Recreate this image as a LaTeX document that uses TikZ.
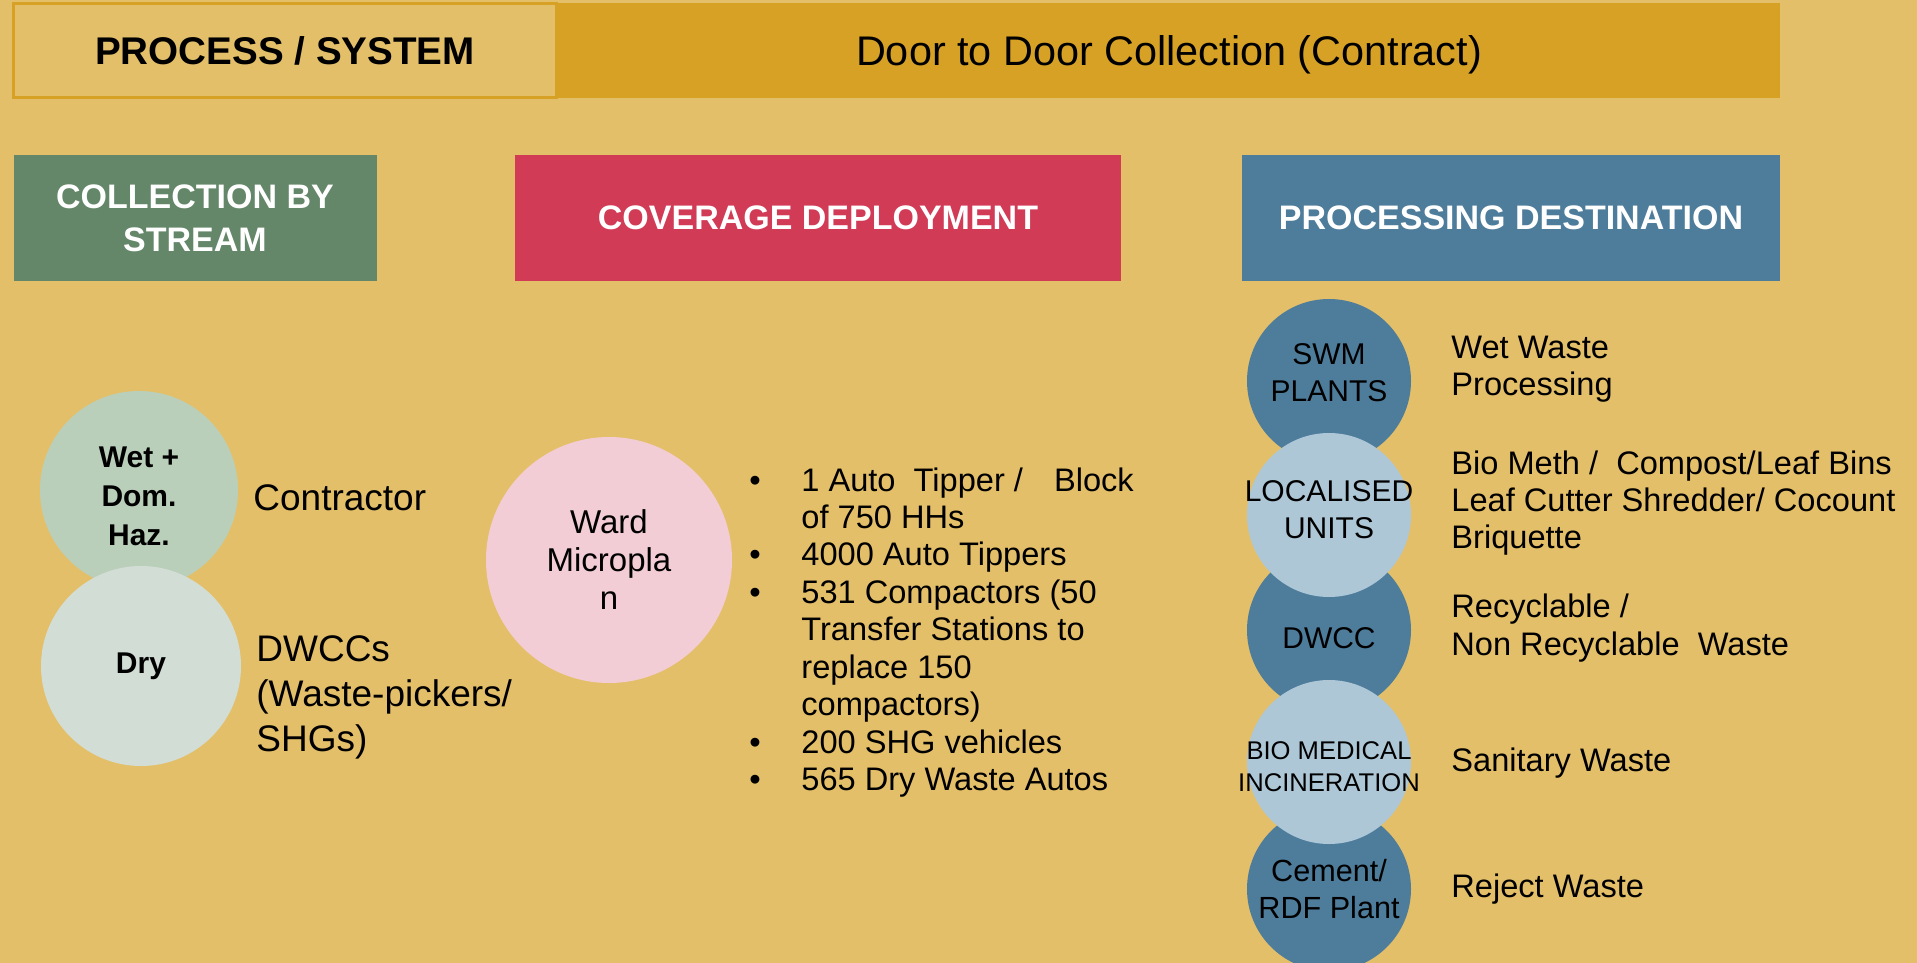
\documentclass[tikz,border=0pt]{standalone}
\usepackage{fontspec}
\setmainfont{Liberation Sans}
\usetikzlibrary{positioning}
\definecolor{sandbg}{HTML}{E4BF69}
\definecolor{bargold}{HTML}{D6A125}
\definecolor{streamgreen}{HTML}{648769}
\definecolor{deployred}{HTML}{D13B56}
\definecolor{destblue}{HTML}{4E7C9B}
\definecolor{wetgreen}{HTML}{BACFBA}
\definecolor{drygreen}{HTML}{D2DED5}
\definecolor{wardpink}{HTML}{F2CDD5}
\definecolor{unitblue}{HTML}{ADC7D7}
\tikzset{
  headbox/.style={text=white, inner sep=0pt, align=center, minimum width=#1, minimum height=63pt,
    font=\bfseries\fontsize{17}{21.5}\selectfont},
  blob/.style={circle, inner sep=0pt, align=center, minimum size=#1},
  circtxt/.style={inner sep=0pt, align=center},
  lbl/.style={anchor=west, inner sep=0pt, align=left},
  bodyfont/.style={font=\fontsize{16.3}{18.6}\selectfont}
}
\begin{document}
\begin{tikzpicture}[x=0.5pt, y=-0.5pt]
\fill[sandbg] (0,0) rectangle (1917,963);
\useasboundingbox (0,0) rectangle (1917,963);
% header row
\node[fill=bargold, inner sep=0pt, minimum width=611pt, minimum height=47.5pt, text height=14.8pt, text depth=0pt,
  font=\fontsize{20.7}{25}\selectfont] (contract) at (1169,50.5) {Door to Door Collection (Contract)};
\node[draw=bargold, line width=1.65pt, fill=sandbg, inner sep=0pt, minimum width=271.4pt, minimum height=46.9pt,
  font=\bfseries\fontsize{19.3}{23}\selectfont] (process) at (285,50.5) {PROCESS / SYSTEM};
% column heads
\node[headbox=181.5pt, fill=streamgreen] (stream) at (195,218) {COLLECTION BY\\STREAM};
\node[headbox=303pt, fill=deployred] (deploy) at (818,218) {COVERAGE DEPLOYMENT};
\node[headbox=269pt, fill=destblue] (dest) at (1511,218) {PROCESSING DESTINATION};
% collection by stream
\node[blob=99pt, fill=wetgreen] (wet) at (139,490) {};
\node[blob=100pt, fill=drygreen, font=\bfseries\fontsize{15}{19.5}\selectfont] (dry) at (141,666) {Dry};
\node[circtxt, font=\bfseries\fontsize{15}{19.5}\selectfont] (wettxt) at (139,496) {Wet +\\Dom.\\Haz.};
\node[lbl, font=\fontsize{18.5}{22.5}\selectfont] (contractor) at (253,498) {Contractor};
\node[lbl, font=\fontsize{18.5}{22.5}\selectfont] (dwccs) at (256,697) {DWCCs\\(Waste-pickers/\\SHGs)};
% coverage deployment
\node[blob=123pt, fill=wardpink, font=\fontsize{16.5}{19}\selectfont] (ward) at (609,560) {Ward\\Micropla\\n};
\foreach \ln [count=\i] in {{1 Auto\ \ Tipper /\hspace{15.5pt}Block}, of 750 HHs, 4000 Auto Tippers,
  531 Compactors (50, Transfer Stations to, replace 150, compactors), 200 SHG vehicles, 565 Dry Waste Autos}
  \node[lbl, bodyfont, anchor=base west] (item\i) at (801,{491+37.45*(\i-1)}) {\ln};
\foreach \i in {1,3,4,8,9}
  \node[inner sep=0pt, bodyfont, anchor=base] (dot\i) at (755,{491+37.45*(\i-1)}) {•};
% processing destination
\node[blob=82pt, fill=destblue] (swm) at (1329,381) {};
\node[blob=82pt, fill=destblue] (dwcc) at (1329,630) {};
\node[blob=82pt, fill=destblue] (cement) at (1329,889) {};
\node[blob=82pt, fill=unitblue] (local) at (1329,515) {};
\node[blob=82pt, fill=unitblue] (biomed) at (1329,762) {};
\node[circtxt, font=\fontsize{15}{18.5}\selectfont] (swmtxt) at (1329,373) {SWM\\PLANTS};
\node[circtxt, font=\fontsize{15}{18.5}\selectfont] (localtxt) at (1329,510) {LOCALISED\\UNITS};
\node[circtxt, font=\fontsize{15}{18.5}\selectfont] (dwcctxt) at (1329,638) {DWCC};
\node[circtxt, font=\fontsize{12.8}{16}\selectfont] (biomedtxt) at (1329,767) {BIO MEDICAL\\INCINERATION};
\node[circtxt, font=\fontsize{15.3}{18.3}\selectfont] (cementtxt) at (1329,889) {Cement/\\RDF Plant};
\node[lbl, bodyfont] (wetproc) at (1451,369) {Wet Waste\\Processing};
\node[lbl, bodyfont] (biometh) at (1451,503) {Bio Meth /\ \ Compost/Leaf Bins\\Leaf Cutter Shredder/ Cocount\\Briquette};
\node[lbl, bodyfont] (recyc) at (1451,628) {Recyclable /\\Non Recyclable\ \ Waste};
\node[lbl, bodyfont] (sanitary) at (1451,763) {Sanitary Waste};
\node[lbl, bodyfont] (reject) at (1451,889) {Reject Waste};
\end{tikzpicture}
\end{document}
